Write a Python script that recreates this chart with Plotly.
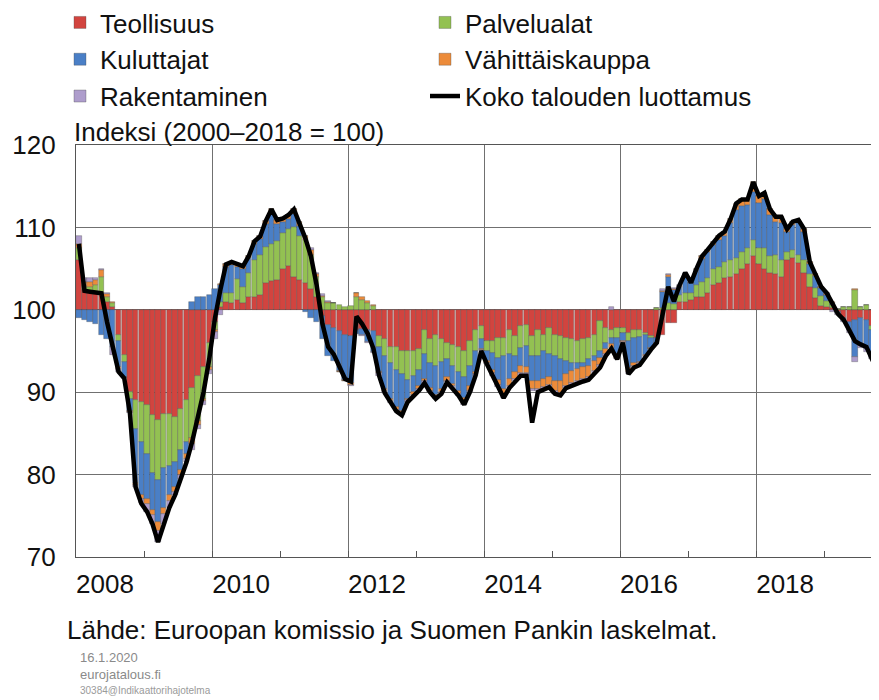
import pandas as pd
import plotly.graph_objects as go

# ---------------- data (monthly, Jan 2008 onwards) ----------------
start_month = "2008-01-01"
n_months = 142

teollisuus = [
    6.0, 2.4, 2.2, 2.0, 2.0, 1.0, 0.3, -3.0, -5.5, -10.0, -11.0, -11.2,
    -11.5, -12.8, -13.4, -12.6, -12.6, -13.0, -12.0, -11.0, -9.5, -8.0, -7.0, -4.0,
    -1.5, 0.4, 1.0, 0.8, 1.2, 0.8, 1.5, 1.5, 1.8, 3.3, 3.5, 3.6,
    5.0, 5.3, 4.0, 3.6, 3.2, 2.5, 1.5, -0.8, -1.8, -2.2, -2.6, -3.0,
    -3.2, -2.4, -2.3, -2.4, -2.6, -3.2, -3.6, -4.5, -4.5, -5.0, -5.0, -5.0,
    -4.8, -2.4, -3.5, -3.0, -3.5, -4.0, -4.3, -4.5, -5.0, -3.8, -2.5, -2.0,
    -3.8, -3.8, -3.4, -3.4, -2.4, -3.2, -2.0, -1.8, -3.2, -2.4, -3.0, -2.2,
    -3.0, -3.2, -3.4, -3.6, -3.8, -3.6, -3.4, -3.0, -1.4, -2.2, -2.4, -2.2,
    -2.2, -2.8, -2.4, -2.5, -2.8, -3.2, -3.4, -3.0, -1.6, -1.6, 1.0, 1.0,
    1.2, 1.5, 1.6, 2.0, 3.0, 3.2, 3.8, 4.0, 4.3, 5.0, 5.5, 6.5,
    5.5, 5.0, 4.5, 4.3, 4.0, 6.0, 6.3, 5.7, 4.5, 2.8, 1.4, 0.5,
    0.3, 0.2, -0.3, -1.0, -1.5, -1.2, -1.0, -1.2, -2.0, -2.5,
]
palvelualat = [
    1.5, 0.5, 0.6, 1.0, 2.0, 0.6, 0.5, -0.8, -0.8, -0.8, -3.5, -4.8,
    -6.0, -7.0, -7.3, -6.6, -6.4, -5.5, -5.0, -5.0, -6.0, -5.5, -3.8, -3.0,
    -1.0, 0.6, 1.0, 1.2, 2.5, 2.0, 3.0, 4.5, 4.8, 4.3, 4.5, 4.8,
    4.3, 4.5, 6.0, 5.3, 5.3, 4.2, 2.5, 1.5, 0.8, 0.8, 0.6, 0.3,
    0.5, 1.5, 1.2, 0.8, 0.5, -1.3, -2.0, -2.0, -2.8, -2.8, -3.5, -3.0,
    -2.5, -3.0, -3.0, -3.8, -2.8, -2.0, -2.5, -3.0, -3.2, -3.0, -2.5, -1.5,
    -1.2, -1.5, -2.4, -2.2, -3.0, -2.4, -2.6, -2.6, -2.4, -3.2, -2.0, -3.2,
    -2.6, -2.8, -2.8, -2.8, -2.6, -2.8, -2.6, -2.6, -3.6, -1.8, -1.0, -1.2,
    -0.6, -1.0, -1.0, -0.8, -0.3, -0.2, 0.2, 0.2, 0.8, 0.7, 0.8, 1.0,
    0.8, 1.5, 1.8, 1.8, 2.0, 2.0, 2.0, 2.0, 2.0, 2.0, 2.0, 2.0,
    2.0, 2.5, 2.0, 2.3, 2.0, 1.0, 1.0, 1.0, 1.5, 1.5, 1.2, 1.2,
    0.8, 0.4, 0.1, 0.3, 0.3, 2.4, 0.4, 0.6, -0.5, -0.5,
]
kuluttajat = [
    -1.0, -1.2, -1.5, -1.7, -3.0, -3.5, -4.5, -3.2, -1.8, -1.5, -6.5, -6.5,
    -5.5, -4.5, -5.0, -4.8, -3.5, -3.0, -2.5, -1.5, 1.0, 1.5, 1.5, 1.8,
    2.5, 2.0, 3.2, 3.4, 1.5, 2.2, 1.8, 2.0, 2.0, 2.8, 3.6, 2.0,
    1.4, 1.2, 1.6, 1.3, -0.3, -1.0, -1.5, -2.8, -3.8, -4.0, -4.8, -5.5,
    -5.7, -0.5, -0.8, -1.5, -2.5, -3.0, -4.0, -4.3, -4.5, -4.5, -2.3, -2.0,
    -2.0, -3.0, -3.0, -3.5, -3.3, -2.2, -2.2, -2.3, -2.5, -2.5, -2.5, -1.2,
    -1.2, -2.0, -2.7, -4.0, -3.0, -2.0, -2.2, -2.5, -3.0, -3.0, -3.4, -2.8,
    -3.0, -2.7, -1.6, -1.0, -0.8, -0.6, -0.8, -0.6, -0.8, -0.8, -0.8, -2.0,
    -1.0, -3.3, -3.0, -3.0, -2.4, -1.2, -0.6, 2.0, 3.2, 1.7, 1.0, 2.3,
    1.2, 1.8, 2.8, 3.2, 2.9, 3.3, 3.2, 4.5, 5.8, 5.6, 5.2, 5.8,
    5.5, 6.0, 5.0, 4.0, 4.5, 2.5, 3.0, 3.8, 3.5, 1.3, 1.5, 0.9,
    0.7, 0.2, -0.1, -0.3, -1.0, -4.5, -3.2, -3.5, -3.2, -4.0,
]
vahittaiskauppa = [
    0.5, 0.5, 0.6, 0.6, 0.8, 0.3, 0.2, -0.2, -0.1, -0.1, -0.3, -0.4,
    -0.6, -0.6, -1.2, -0.8, -0.7, -0.6, -0.6, -0.6, -0.8, -0.5, -0.3, -0.3,
    -0.2, 0.1, 0.3, 0.4, 0.3, 0.3, 0.2, 0.3, 0.3, 0.4, 0.6, 0.5,
    0.4, 0.5, 0.6, 0.4, 0.5, 0.5, 0.4, 0.2, 0.2, 0.0, -0.1, -0.1,
    -0.2, 0.5, 0.3, 0.3, 0.1, -0.2, -0.3, -0.3, -0.3, -0.3, -0.2, -0.3,
    -0.3, -0.3, -0.3, -0.3, -0.4, -0.4, -0.3, -0.4, -0.6, -0.5, -0.3, -0.2,
    -0.2, -0.4, -0.6, -0.8, -0.8, -0.8, -0.9, -0.8, -1.0, -1.0, -1.0, -0.9,
    -1.3, -1.4, -1.4, -1.5, -1.4, -1.4, -1.4, -1.2, -0.9, -0.6, -0.4, -0.4,
    -0.1, -0.4, -0.4, -0.2, -0.1, -0.1, 0.0, 0.1, 0.2, 0.1, 0.1, 0.1,
    0.1, 0.2, 0.3, 0.3, 0.3, 0.5, 0.5, 0.5, 0.8, 0.8, 0.7, 1.2,
    0.8, 0.7, 0.7, 0.7, 0.8, 0.3, 0.4, 0.4, 0.3, 0.2, 0.2, 0.2,
    0.1, 0.1, 0.0, 0.0, 0.0, 0.1, 0.0, 0.0, 0.0, -0.2,
]
rakentaminen = [
    1.0, 0.5, 0.4, 0.3, 0.2, 0.1, -1.0, -0.3, -0.1, -0.1, -0.2, -0.6,
    -0.9, -1.1, -1.3, -1.2, -0.8, -0.4, -0.4, -0.4, -0.7, -0.5, -0.4, -0.5,
    -0.8, -0.6, 0.0, 0.0, 0.0, 0.0, 0.0, 0.0, 0.0, 0.0, 0.0, 0.0,
    0.0, 0.0, 0.0, 0.0, 0.0, 0.3, 0.1, 0.2, 0.1, 0.0, -0.1, -0.1,
    -0.1, 0.1, -0.1, -0.1, -0.2, -0.3, -0.2, -0.2, -0.2, -0.2, -0.2, -0.2,
    -0.2, -0.2, -0.2, -0.2, -0.2, -0.2, -0.2, -0.2, -0.2, -0.2, -0.2, -0.1,
    -0.2, -0.3, -0.3, -0.3, -0.3, -0.3, -0.3, -0.3, -0.3, -0.3, -0.3, -0.3,
    -0.3, -0.3, -0.3, -0.3, -0.3, -0.3, -0.3, -0.3, -0.3, -0.2, 0.3, -0.2,
    -0.1, -0.3, -0.2, -0.2, -0.1, -0.1, -0.2, 0.2, 0.2, 0.1, 0.1, 0.1,
    0.0, 0.0, 0.0, 0.0, 0.0, 0.0, 0.0, 0.0, 0.0, 0.0, 0.0, 0.0,
    0.0, 0.0, 0.0, 0.0, 0.0, 0.0, 0.0, 0.0, 0.0, 0.0, 0.0, 0.0,
    0.1, -0.3, -0.2, -0.2, -0.3, -0.6, -0.4, -0.4, -0.3, -0.3,
]
koko_talous = [
    108.0, 102.3, 102.2, 102.1, 102.0, 98.5, 95.5, 92.5, 91.7, 87.5, 78.5, 76.5,
    75.5, 74.0, 71.8, 74.0, 76.0, 77.5, 79.5, 81.5, 84.0, 87.0, 90.0, 94.0,
    99.0, 102.5, 105.5, 105.8, 105.5, 105.3, 106.5, 108.3, 108.9, 110.8, 112.2, 110.9,
    111.1, 111.5, 112.2, 110.6, 108.7, 106.5, 103.0, 98.3, 95.5, 94.6, 93.0, 91.6,
    91.3, 99.2, 98.3, 97.1, 95.3, 92.0, 89.9, 88.7, 87.7, 87.2, 88.8, 89.5,
    90.2, 91.1, 90.0, 89.2, 89.8, 91.2, 90.5, 89.6, 88.5, 90.0, 92.0, 95.0,
    93.4, 92.0, 90.6, 89.3, 90.5, 91.3, 92.0, 92.0, 86.3, 90.0, 90.3, 90.6,
    89.8, 89.6, 90.5, 90.8, 91.1, 91.3, 91.5, 92.3, 93.0, 94.4, 95.3, 94.0,
    96.0, 92.2, 93.0, 93.3, 94.3, 95.2, 96.0, 99.5, 102.8, 101.0, 103.0, 104.5,
    103.3, 105.0, 106.5, 107.3, 108.2, 109.0, 109.5, 111.0, 112.9, 113.4, 113.4, 115.5,
    113.8, 114.2, 112.2, 111.3, 111.3, 109.8, 110.7, 110.9, 109.8, 105.8, 104.3, 102.8,
    102.0, 100.6, 99.5, 98.8, 97.5, 96.2, 95.8, 95.5, 94.0, 92.5,
]

series_names = ["Teollisuus", "Palvelualat", "Kuluttajat", "Vähittäiskauppa", "Rakentaminen"]
series_values = [teollisuus, palvelualat, kuluttajat, vahittaiskauppa, rakentaminen]
series_colors = ["#D2443F", "#93C152", "#4A7FC6", "#EC8B3A", "#AE9DCC"]
line_name = "Koko talouden luottamus"
baseline = 100

months = pd.date_range(start_month, periods=n_months, freq="MS")

# stacked contributions around the 100 baseline (positive up, negative down)
pos_cum = [baseline] * n_months
neg_cum = [baseline] * n_months

FONT = "Liberation Sans, Arial, sans-serif"
FS = 26
GRID = "#707070"
fig = go.Figure()
for name, vals, col in zip(series_names, series_values, series_colors):
    bases = []
    for i, v in enumerate(vals):
        if v >= 0:
            bases.append(pos_cum[i])
            pos_cum[i] += v
        else:
            bases.append(neg_cum[i])
            neg_cum[i] += v
    fig.add_trace(go.Bar(
        x=months, y=vals, base=bases, name=name,
        xperiod="M1", xperiodalignment="middle",
        width=29 * 86400000,
        marker=dict(color=col, line=dict(color="rgba(70,70,70,0.55)", width=0.6)),
    ))

fig.add_trace(go.Scatter(
    x=months, y=koko_talous, name=line_name, mode="lines",
    xperiod="M1", xperiodalignment="middle",
    line=dict(color="#000000", width=4.5),
))

# the page body has an 8 px margin, so the figure is 8 px smaller than the window
fig.update_layout(
    width=871, height=692,
    margin=dict(l=68, r=0, t=137, b=143, autoexpand=False),
    paper_bgcolor="white", plot_bgcolor="white",
    barmode="overlay", bargap=0,
    font=dict(family=FONT, size=FS, color="#111111"),
    showlegend=True,
    legend=dict(
        orientation="h", xref="container", yref="paper",
        x=0.0597, y=1.3543, xanchor="left", yanchor="top",
        entrywidth=320, entrywidthmode="pixels",
        font=dict(family=FONT, size=FS, color="#111111"),
        itemwidth=30, traceorder="normal",
        bgcolor="rgba(0,0,0,0)",
    ),
    xaxis=dict(
        type="date", range=["2008-01-01", "2019-10-23"],
        tick0="2008-01-01", dtick="M24", tickformat="%Y",
        showgrid=True, gridcolor=GRID, gridwidth=1,
        ticks="inside", ticklen=6, tickcolor="#555",
        ticklabelshift=29, ticklabelstandoff=4,
        minor=dict(dtick="M12", tick0="2008-01-01", ticks="inside", ticklen=6,
                   tickcolor="#555", showgrid=False),
        showline=True, linecolor="#555", linewidth=1.2, mirror=True,
        tickfont=dict(family=FONT, size=FS, color="#111111"),
        zeroline=False,
    ),
    yaxis=dict(
        range=[70, 120], dtick=10, tick0=70,
        showgrid=True, gridcolor=GRID, gridwidth=1,
        showline=True, linecolor="#555", linewidth=1.2,
        ticks="", ticklabelstandoff=14,
        tickfont=dict(family=FONT, size=FS, color="#111111"),
        zeroline=False,
    ),
    annotations=[
        dict(text="Indeksi (2000–2018 = 100)", xref="paper", yref="paper",
             x=0, y=1, xanchor="left", yanchor="bottom", showarrow=False,
             xshift=-4, yshift=-4, font=dict(family=FONT, size=FS, color="#111111")),
        dict(text="Lähde: Euroopan komissio ja Suomen Pankin laskelmat.",
             xref="paper", yref="paper", x=-0.011, y=-0.177,
             xanchor="left", yanchor="middle", showarrow=False,
             xshift=-2, font=dict(family=FONT, size=FS, color="#111111")),
        dict(text="16.1.2020", xref="paper", yref="paper", x=0.003, y=-0.243,
             xanchor="left", yanchor="middle", showarrow=False,
             font=dict(family=FONT, size=13, color="#8a8a8a")),
        dict(text="eurojatalous.fi", xref="paper", yref="paper", x=0.003, y=-0.286,
             xanchor="left", yanchor="middle", showarrow=False,
             font=dict(family=FONT, size=13, color="#8a8a8a")),
        dict(text="30384@Indikaattorihajotelma", xref="paper", yref="paper", x=0.003, y=-0.323,
             xanchor="left", yanchor="middle", showarrow=False,
             font=dict(family=FONT, size=10, color="#9a9a9a")),
    ],
)

fig.write_html("out.html")
